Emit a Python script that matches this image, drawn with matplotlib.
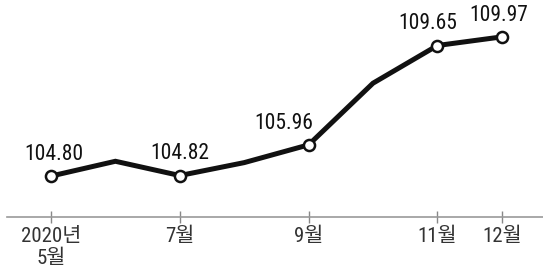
import matplotlib
matplotlib.use('Agg')
import matplotlib.pyplot as plt

plt.rcParams['font.family'] = ['Roboto Condensed', 'Noto Sans CJK KR', 'DejaVu Sans']

# monthly index values, May - Dec 2020
months = ['2020년\n5월', '6월', '7월', '8월', '9월', '10월', '11월', '12월']
values = [104.80, 105.35, 104.82, 105.30, 105.96, 108.25, 109.65, 109.97]
labeled = [0, 2, 4, 6, 7]

# label placement (points) for each labelled point
label_dx = [2, 0, 3, -7, -2]
label_ha = ['center', 'center', 'right', 'center', 'center']

fig = plt.figure(figsize=(5.43, 2.70), dpi=100)
ax = fig.add_axes([0, 53 / 270, 1, 217 / 270])

x = list(range(len(values)))
ax.plot(x, values, color='#111111', lw=3.6, solid_joinstyle='miter', zorder=2)
ax.plot([x[i] for i in labeled], [values[i] for i in labeled], 'o', ms=8,
        mfc='white', mec='#111111', mew=1.8, zorder=3)

for k, i in enumerate(labeled):
    ax.annotate(f'{values[i]:.2f}', (x[i], values[i]), xytext=(label_dx[k], 8),
                textcoords='offset points', ha=label_ha[k], va='bottom',
                fontsize=15.5, color='#111111')

ax.set_xlim(-51 / 64.4, 492 / 64.4)
ax.set_ylim(103.28, 111.34)

ax.set_xticks([x[i] for i in labeled])
ax.set_xticklabels([months[i] for i in labeled], fontsize=15, color='#333333',
                   linespacing=1.25)
ax.tick_params(axis='x', direction='inout', length=8, width=1, color='#888888', pad=3)
ax.set_yticks([])

for s in ['top', 'right', 'left']:
    ax.spines[s].set_visible(False)
ax.spines['bottom'].set_color('#999999')
ax.spines['bottom'].set_linewidth(1.2)
ax.spines['bottom'].set_bounds(-0.68, 492 / 64.4)

fig.savefig('out.png', dpi=100)
